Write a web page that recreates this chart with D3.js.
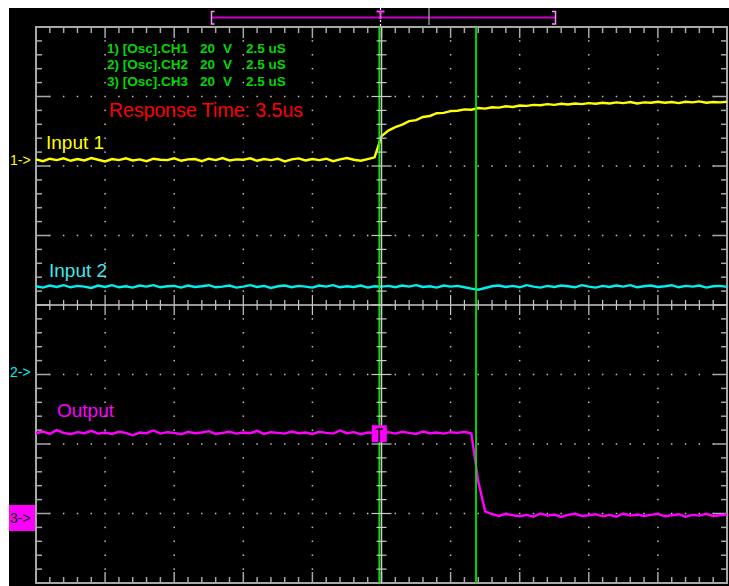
<!DOCTYPE html>
<html><head><meta charset="utf-8">
<script src="https://cdn.jsdelivr.net/npm/d3@7"></script>
<style>html,body{margin:0;padding:0;background:#fff;}svg{display:block;}</style>
</head><body>
<svg id="chart" width="729" height="586"></svg>
<script>
// Acquisition: 2.5 us/div horizontally, 20 V/div on every channel
const timeRange = [-12.5, 12.5];   // us across the 10 divisions
const sampleStep = 0.25;           // us between stored samples
const voltsPerDiv = 20;

// CH1 "Input 1" (V), one sample every 0.25 us starting at -12.5 us
const ch1Values = [
  0.3, -0.2, 0.5, 0.1, 0.6, -0.1, 0.4, 0.0, 0.7, 0.2,
  -0.3, 0.4, 0.1, 0.6, 0.0, 0.3, -0.2, 0.5, 0.2, 0.1,
  0.6, -0.1, 0.3, 0.4, -0.2, 0.5, 0.1, 0.7, 0.0, 0.3,
  0.2, 0.6, -0.1, 0.4, 0.1, 0.5, -0.3, 0.3, 0.6, 0.0,
  0.4, 0.1, 0.5, -0.2, 0.3, 0.7, 0.2, -0.1, 0.4, 0.9,
  7.0,
  8.6, 9.6, 10.3, 11.3, 11.6, 12.5, 12.8, 13.6, 13.7, 14.2,
  14.3, 14.7, 14.6, 15.1, 14.9, 15.3, 15.2, 15.6, 15.4, 15.8,
  15.7, 16.0, 15.9, 16.2, 16.0, 16.3, 16.1, 16.4, 16.2, 16.5,
  16.3, 16.6, 16.4, 16.7, 16.5, 16.8, 16.4, 16.7, 16.6, 16.9,
  16.6, 16.8, 16.5, 16.9, 16.7, 17.0, 16.6, 16.8, 16.7, 16.9
];
// CH2 "Input 2" (V)
const ch2Values = [
  24.6, 24.2, 24.8, 24.4, 24.9, 24.3, 24.7, 24.5, 24.1, 24.8,
  24.4, 24.9, 24.3, 24.6, 24.2, 24.8, 24.5, 24.9, 24.3, 24.6,
  24.7, 24.2, 24.8, 24.4, 24.6, 24.9, 24.3, 24.5, 24.8, 24.2,
  24.5, 24.9, 24.4, 24.7, 24.1, 24.6, 24.8, 24.3, 24.7, 24.5,
  24.2, 24.8, 24.5, 24.9, 24.3, 24.6, 24.4, 24.8, 24.2, 24.6,
  24.5,
  24.7, 24.3, 24.8, 24.5, 24.9, 24.4, 24.6, 24.2, 24.8, 24.5,
  24.7, 24.3, 23.9, 23.6, 24.1, 24.6, 24.8, 24.4, 24.7, 24.3,
  24.9, 24.5, 24.2, 24.7, 24.4, 24.8, 24.6, 24.3, 24.9, 24.5,
  24.2, 24.7, 24.4, 24.8, 24.5, 24.9, 24.3, 24.6, 24.8, 24.4,
  24.6, 24.9, 24.3, 24.7, 24.5, 24.8, 24.2, 24.6, 24.7, 24.4
];
// CH3 "Output" (V)
const ch3Values = [
  24.4, 24.9, 24.2, 25.3, 24.5, 24.1, 24.7, 24.4, 25.1, 24.3,
  24.6, 24.2, 24.8, 24.5, 23.8, 24.6, 24.4, 25.2, 24.3, 24.7,
  24.5, 24.1, 24.8, 24.4, 24.6, 25.0, 24.2, 24.5, 24.8, 24.3,
  24.6, 24.4, 25.1, 24.2, 24.7, 24.5, 24.3, 24.9, 24.4, 24.6,
  24.2, 24.8, 24.5, 24.3, 25.2, 24.4, 24.7, 24.1, 24.6, 24.5,
  24.4,
  24.7, 24.3, 24.8, 24.5, 24.2, 24.9, 24.4, 24.6, 24.3, 24.7,
  24.5, 24.8, 24.3, 10.5, 1.9, 1.1, 0.6, 1.2, 0.8, 0.5,
  0.9, 0.4, 1.3, 0.7, 1.0, 0.3, 0.9, 1.2, 0.6, 0.8,
  1.1, 0.5, 0.9, 0.4, 1.3, 0.7, 1.0, 0.6, 0.9, 1.2,
  0.5, 0.8, 1.1, 0.4, 0.9, 0.7, 1.2, 0.6, 0.8, 1.0
];

const channelNames = ["Input 1", "Input 2", "Output"];
const channelMarkers = ["1->", "2->", "3->"];
const channelOffsetsDiv = [2.08, -0.96, -3.065];  // ground reference of each channel, in divisions
const channelColors = ["#ffff00", "#00f0f0", "#ff00ff"];
const legendRows = [
  ["1) [Osc].CH1", "20", "V", "2.5 uS"],
  ["2) [Osc].CH2", "20", "V", "2.5 uS"],
  ["3) [Osc].CH3", "20", "V", "2.5 uS"]
];
const cursorTimes = [-0.08, 3.42];   // us
const responseLabel = "Response Time: 3.5us";

const svg = d3.select("#chart");
const W = 729, H = 586;
const plot = {left: 36, right: 727, top: 27, bottom: 583};
const x = d3.scaleLinear().domain(timeRange).range([plot.left, plot.right]);
const yDiv = d3.scaleLinear().domain([-4, 4]).range([plot.bottom, plot.top]);
const xDiv = d3.scaleLinear().domain([-5, 5]).range([plot.left, plot.right]);
const FONT = "'Liberation Sans', Arial, Helvetica, sans-serif";

// screen background
svg.append("rect").attr("x", 9).attr("y", 8).attr("width", W - 9).attr("height", H - 8).attr("fill", "#000");

// ---- record bar above the graticule ----
const bar = svg.append("g");
bar.append("line").attr("x1", 211).attr("x2", 555).attr("y1", 17.5).attr("y2", 17.5)
  .attr("stroke", "#c800c8").attr("stroke-width", 2);
bar.append("path").attr("d", "M214.5,11.5H211.5V24H214.5").attr("fill", "none").attr("stroke", "#ff8cff").attr("stroke-width", 1.5);
bar.append("path").attr("d", "M552,11.5H555.5V24H552").attr("fill", "none").attr("stroke", "#ff8cff").attr("stroke-width", 1.5);
bar.append("line").attr("x1", 429).attr("x2", 429).attr("y1", 8).attr("y2", 25).attr("stroke", "#8c8c8c").attr("stroke-width", 1.5);
bar.append("line").attr("x1", 380.5).attr("x2", 380.5).attr("y1", 8).attr("y2", 27)
  .attr("stroke", "#ffffff").attr("stroke-width", 1.2).attr("stroke-dasharray", "2,2");
bar.append("path").attr("d", "M376.5,11.5H384.5M380.5,11.5V19").attr("stroke", "#ff40ff").attr("stroke-width", 2);

// ---- graticule dots ----
const minor = d3.range(-20, 21).map(i => i / 5);      // 0.2 div steps vertically
const minorX = d3.range(-25, 26).map(i => i / 5);     // 0.2 div steps horizontally
const dots = svg.append("g").attr("fill", "#c0c0c0");
[-4, -3, -2, -1, 1, 2, 3, 4].forEach(gx => {
  minor.filter(v => Math.abs(v) < 4 && Math.abs(v) > 0.01).forEach(v => {
    dots.append("rect").attr("x", xDiv(gx) - 0.75).attr("y", yDiv(v) - 0.75).attr("width", 1.5).attr("height", 1.5);
  });
});
[-3, -2, -1, 1, 2, 3].forEach(gy => {
  minorX.filter(v => Math.abs(v) < 5 && Math.abs(v) > 0.01 && Math.abs(v - Math.round(v)) > 0.01).forEach(v => {
    dots.append("rect").attr("x", xDiv(v) - 0.75).attr("y", yDiv(gy) - 0.75).attr("width", 1.5).attr("height", 1.5);
  });
});

// ---- frame with inward ticks ----
const frame = svg.append("g").attr("stroke", "#a8a8a8");
frame.append("rect").attr("x", plot.left).attr("y", plot.top)
  .attr("width", plot.right - plot.left).attr("height", plot.bottom - plot.top)
  .attr("fill", "none").attr("stroke-width", 2);
const isMajor = v => Math.abs(v - Math.round(v)) < 0.01;
minorX.filter(v => Math.abs(v) < 5).forEach(v => {
  const len = isMajor(v) ? 11 : 6;
  frame.append("line").attr("x1", xDiv(v)).attr("x2", xDiv(v)).attr("y1", plot.top).attr("y2", plot.top + len).attr("stroke-width", 1.5);
  frame.append("line").attr("x1", xDiv(v)).attr("x2", xDiv(v)).attr("y1", plot.bottom).attr("y2", plot.bottom - len).attr("stroke-width", 1.5);
});
minor.filter(v => Math.abs(v) < 4).forEach(v => {
  const len = isMajor(v) ? 14 : 6;
  frame.append("line").attr("x1", plot.left).attr("x2", plot.left + len).attr("y1", yDiv(v)).attr("y2", yDiv(v)).attr("stroke-width", 1.5);
  frame.append("line").attr("x1", plot.right).attr("x2", plot.right - len).attr("y1", yDiv(v)).attr("y2", yDiv(v)).attr("stroke-width", 1.5);
});

// ---- traces ----
const series = [ch1Values, ch2Values, ch3Values];
const traceG = svg.append("g");
series.forEach((vals, c) => {
  const line = d3.line()
    .x((d, i) => x(timeRange[0] + i * sampleStep))
    .y(d => yDiv(channelOffsetsDiv[c] + d / voltsPerDiv));
  traceG.append("path").datum(vals).attr("d", line)
    .attr("fill", "none").attr("stroke", channelColors[c]).attr("stroke-width", 2.4)
    .attr("stroke-linejoin", "miter");
});

// ---- time cursors ----
cursorTimes.forEach(t => {
  svg.append("line").attr("x1", x(t)).attr("x2", x(t)).attr("y1", plot.top).attr("y2", plot.bottom)
    .attr("stroke", "#00e600").attr("stroke-width", 1.8);
});

// ---- centre cross with ticks ----
const cross = svg.append("g").attr("stroke", "#c8c8c8");
cross.append("line").attr("x1", xDiv(0)).attr("x2", xDiv(0)).attr("y1", plot.top).attr("y2", plot.bottom).attr("stroke-width", 1.5);
cross.append("line").attr("x1", plot.left).attr("x2", plot.right).attr("y1", yDiv(0)).attr("y2", yDiv(0)).attr("stroke-width", 1.5);
minor.filter(v => Math.abs(v) < 4).forEach(v => {
  const len = isMajor(v) ? 10 : 5;
  cross.append("line").attr("x1", xDiv(0) - len).attr("x2", xDiv(0) + len).attr("y1", yDiv(v)).attr("y2", yDiv(v)).attr("stroke-width", 1.2);
});
minorX.filter(v => Math.abs(v) < 5).forEach(v => {
  const len = isMajor(v) ? 10 : 5;
  cross.append("line").attr("x1", xDiv(v)).attr("x2", xDiv(v)).attr("y1", yDiv(0) - len).attr("y2", yDiv(0) + len).attr("stroke-width", 1.2);
});

// ---- trigger marker on the output level ----
const trigY = yDiv(channelOffsetsDiv[2] + ch3Values[50] / voltsPerDiv);
const trigX = x(cursorTimes[0]);
svg.append("rect").attr("x", trigX - 7.5).attr("y", trigY - 8).attr("width", 15).attr("height", 17).attr("fill", "#ff00ff");
svg.append("path").attr("d", `M${trigX - 3.5},${trigY - 4}H${trigX + 3.5}M${trigX},${trigY - 4}V${trigY + 9}`)
  .attr("stroke", "#000").attr("stroke-width", 1.6);

// ---- channel ground markers on the left ----
channelMarkers.forEach((m, c) => {
  const yy = yDiv(channelOffsetsDiv[c]);
  if (c === 2) {
    svg.append("rect").attr("x", 9).attr("y", yy - 13).attr("width", 26).attr("height", 26).attr("fill", "#ff00ff");
  }
  svg.append("text").attr("x", 10).attr("y", yy).attr("dy", "0.36em")
    .attr("font-family", FONT).attr("font-size", 14)
    .attr("fill", c === 2 ? "#000" : channelColors[c]).text(m);
});

// ---- channel names ----
const nameColors = ["#ffff00", "#40e8e8", "#ff00ff"];
const namePos = [[46, 149], [49, 277], [57, 417]];
channelNames.forEach((n, c) => {
  svg.append("text").attr("x", namePos[c][0]).attr("y", namePos[c][1])
    .attr("font-family", FONT).attr("font-size", 19).attr("fill", nameColors[c]).text(n);
});

// ---- channel settings legend ----
const legendX = [107, 200, 223, 246];
legendRows.forEach((row, r) => {
  row.forEach((s, k) => {
    svg.append("text").attr("x", legendX[k]).attr("y", 52.5 + r * 16.5)
      .attr("font-family", FONT).attr("font-size", 13.5).attr("font-weight", "bold")
      .attr("fill", "#00d800").text(s);
  });
});

svg.append("text").attr("x", 109).attr("y", 117)
  .attr("font-family", FONT).attr("font-size", 19.5).attr("fill", "#ff0000").text(responseLabel);
</script>
</body></html>
